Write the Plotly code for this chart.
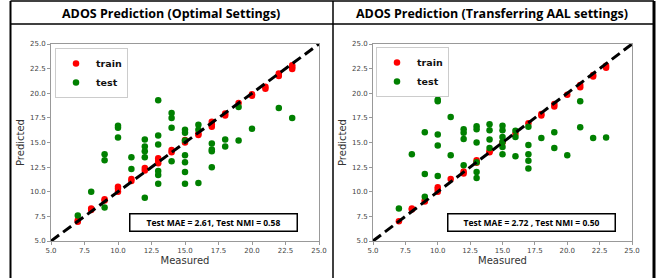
import plotly.graph_objects as go

# ---------------- data ----------------
# Left panel: ADOS Prediction (Optimal Settings)
left_train_x = [7, 7, 8, 8, 9, 9, 10, 10, 10, 11, 11, 12, 12, 13, 13, 13, 14, 14, 15, 15,
                16, 16, 17, 17, 17, 18, 18, 19, 20, 20, 21, 21, 22, 22, 23, 23, 23]
left_train_y = [7.1, 6.95, 8.3, 8.15, 9.25, 9.1, 10.5, 10.3, 10.0, 11.3, 11.1, 12.4, 12.15,
                13.4, 13.15, 12.9, 14.25, 14.0, 15.25, 15.0, 15.9, 15.75, 17.1, 16.85, 16.6,
                17.95, 17.75, 19.0, 19.9, 19.75, 20.65, 20.45, 22.0, 21.75, 22.85, 22.65, 22.45]
left_test_x = [7, 8, 9, 9, 9, 10, 10, 10, 11, 11, 12, 12, 12, 12, 12,
               13, 13, 13, 13, 13, 13, 14, 14, 14, 14, 15, 15, 15, 15, 15, 15, 15,
               16, 16, 16, 17, 17, 17, 17, 18, 18, 19, 19, 20, 22, 23]
left_test_y = [7.6, 10.0, 13.8, 13.2, 8.4, 16.7, 16.5, 15.5, 13.5, 12.3, 15.3, 14.6, 14.1, 13.5, 9.4,
               19.3, 15.7, 14.8, 12.1, 11.7, 10.8, 18.0, 17.5, 16.5, 13.1, 16.3, 16.0, 15.2, 13.7, 13.0, 12.0, 10.8,
               16.8, 16.3, 10.9, 14.9, 14.3, 14.1, 12.5, 15.3, 14.6, 18.6, 15.2, 16.4, 18.5, 17.5]

# Right panel: ADOS Prediction (Transferring AAL settings)
right_train_x = [7, 8, 8, 9, 9, 10, 10, 10, 11, 12, 12, 13, 13, 14, 14, 15, 16, 17,
                 18, 18, 19, 19, 20, 21, 21, 22, 22, 23, 23]
right_train_y = [7.0, 8.3, 8.2, 9.0, 9.1, 10.45, 10.25, 10.0, 11.3, 12.05, 11.85, 13.2, 12.95,
                 14.1, 14.0, 15.0, 15.9, 16.95, 17.9, 17.75, 18.9, 18.65, 19.85, 20.85, 20.6,
                 21.85, 21.7, 22.8, 22.6]
right_test_x = [7, 8, 9, 9, 9, 10, 10, 10, 10, 10, 11, 11, 12, 12, 12, 12,
                13, 13, 13, 13, 13, 13, 14, 14, 14, 14, 15, 15, 15, 15, 15, 15,
                16, 16, 16, 17, 17, 17, 17, 17, 18, 19, 19, 20, 21, 21, 22, 23]
right_test_y = [8.3, 13.8, 16.05, 11.8, 9.5, 19.35, 19.2, 15.8, 14.7, 11.6, 17.6, 13.7,
                16.35, 16.0, 15.35, 12.7, 16.65, 16.35, 15.0, 13.0, 12.0, 11.4,
                16.85, 16.25, 15.3, 14.45, 16.7, 16.25, 15.55, 15.05, 14.55, 13.8,
                16.2, 15.55, 13.6, 16.6, 14.75, 13.8, 13.15, 12.35, 15.45, 16.05, 14.45,
                13.7, 19.2, 16.55, 15.45, 15.5]

diag = [5, 25]
tick_vals = [5, 7.5, 10, 12.5, 15, 17.5, 20, 22.5, 25]
tick_text = ["5.0", "7.5", "10.0", "12.5", "15.0", "17.5", "20.0", "22.5", "25.0"]

panel_titles = ["ADOS Prediction (Optimal Settings)", "ADOS Prediction (Transferring AAL settings)"]
metric_texts = ["Test MAE = 2.61, Test NMI = 0.58", "Test MAE = 2.72 , Test NMI = 0.50"]

# ---------------- figure ----------------
W, H = 665, 278
def px(x):
    return x / W
def py(y):
    return 1 - y / H

fig = go.Figure()

panels = [
    (left_train_x, left_train_y, left_test_x, left_test_y, "x", "y", "legend"),
    (right_train_x, right_train_y, right_test_x, right_test_y, "x2", "y2", "legend2"),
]
for tx, ty, sx, sy, xa, ya, lg in panels:
    fig.add_trace(go.Scatter(x=tx, y=ty, mode="markers", name="train",
                             marker=dict(color="#ff0000", size=6.5, line=dict(width=0)),
                             xaxis=xa, yaxis=ya, legend=lg))
    fig.add_trace(go.Scatter(x=sx, y=sy, mode="markers", name="test",
                             marker=dict(color="#008000", size=6.5, line=dict(width=0)),
                             xaxis=xa, yaxis=ya, legend=lg))
    fig.add_trace(go.Scatter(x=diag, y=diag, mode="lines", showlegend=False,
                             line=dict(color="black", width=3, dash="10px,5px"),
                             xaxis=xa, yaxis=ya, hoverinfo="skip"))

axis_common = dict(range=[5, 25], tickvals=tick_vals, ticktext=tick_text, automargin=False,
                   showgrid=False, zeroline=False, showline=True, mirror=True,
                   linecolor="#999999", linewidth=1, ticks="outside", ticklen=3,
                   tickcolor="#999999", tickfont=dict(family="DejaVu Sans", size=7, color="#444444"))
title_font = dict(family="DejaVu Sans", size=10, color="#333333")

legend_common = dict(xanchor="left", yanchor="top",
                     bordercolor="#cccccc", borderwidth=1, bgcolor="white",
                     font=dict(family="DejaVu Sans", size=9.5, color="#111111", weight="bold"),
                     itemwidth=30, tracegroupgap=0)

fig.update_layout(
    template="none",
    width=W, height=H, margin=dict(l=0, r=0, t=0, b=0, autoexpand=False),
    paper_bgcolor="white", plot_bgcolor="white",
    xaxis=dict(domain=[px(51), px(319)], anchor="y",
               title=dict(text="Measured", font=title_font, standoff=2), **axis_common),
    yaxis=dict(domain=[py(241), py(44)], anchor="x",
               title=dict(text="Predicted", font=title_font, standoff=3), **axis_common),
    xaxis2=dict(domain=[px(373), px(632)], anchor="y2",
                title=dict(text="Measured", font=title_font, standoff=2), **axis_common),
    yaxis2=dict(domain=[py(241), py(44)], anchor="x2",
                title=dict(text="Predicted", font=title_font, standoff=3), **axis_common),
    legend=dict(x=px(55), y=py(48), **legend_common),
    legend2=dict(x=px(376), y=py(47), **legend_common),
    showlegend=True,
)

# table borders
line_specs = [
    (10.5, 1, 10.5, 278, 2),
    (333, 1, 333, 278, 1.5),
    (654, 1, 654, 278, 3),
    (10.5, 1, 654, 1, 1.5),
    (10.5, 24, 654, 24, 1.5),
]
for x0, y0, x1, y1, w in line_specs:
    fig.add_shape(type="line", xref="paper", yref="paper",
                  x0=px(x0), y0=py(y0), x1=px(x1), y1=py(y1),
                  line=dict(color="black", width=w), layer="above")

# panel titles
for cx, txt in zip([171, 492], panel_titles):
    fig.add_annotation(x=px(cx), y=py(13), xref="paper", yref="paper", text=f"<b>{txt}</b>",
                       showarrow=False, xanchor="center", yanchor="middle",
                       font=dict(family="Open Sans", size=12.5, color="black"))

# metric boxes
for cx, txt in zip([213.5, 531.5], metric_texts):
    fig.add_annotation(x=px(cx), y=py(222.5), xref="paper", yref="paper", text=f"<b>{txt}</b>",
                       showarrow=False, xanchor="center", yanchor="middle",
                       width=164, height=14, borderpad=1,
                       bordercolor="black", borderwidth=1.5, bgcolor="white",
                       font=dict(family="Open Sans", size=8.5, color="black"))

fig.write_html("out.html", config={"displayModeBar": False},
               post_script="document.body.style.margin='0';document.body.style.overflow='hidden';")
